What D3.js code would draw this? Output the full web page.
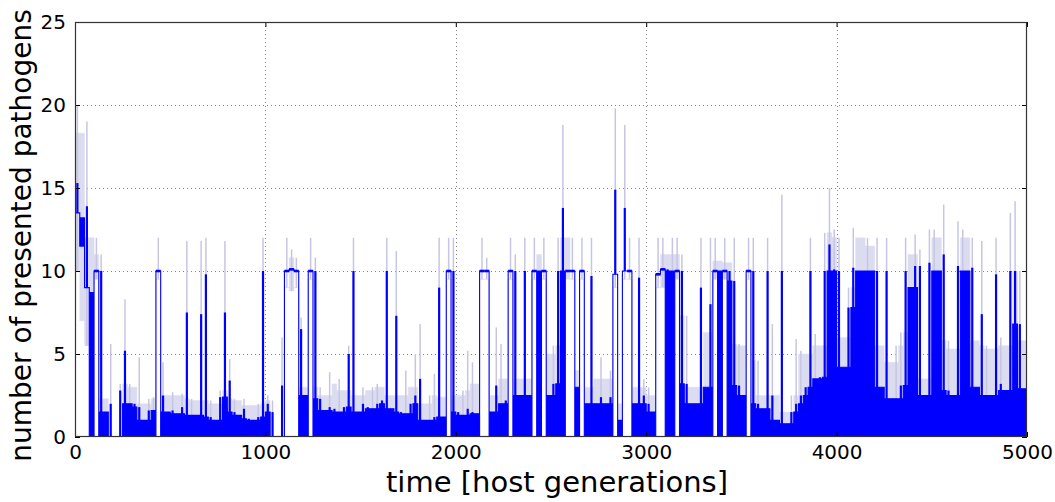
<!DOCTYPE html>
<html>
<head>
<meta charset="utf-8">
<script src="https://cdn.jsdelivr.net/npm/d3@7/dist/d3.min.js"></script>
<style>
  body { margin: 0; background: #fff; }
  svg { display: block; font-family: "DejaVu Sans", sans-serif; }
</style>
</head>
<body>
<svg id="chart"></svg>
<script>
// Data: one sample every 25 host generations.
// blueHi / blueLo = top and bottom of the blue trace within each step,
// lavHi / lavLo = top and bottom of the light band behind it.
let step = 25;

let blueHi = [
  15.3, 13.2, 13.9, 8.7, 10, 10, 1.5, 2.0, 0, 2.8,
  5.2, 2.0, 2.0, 1.8, 1.0, 1.6, 1.6, 10, 2.5, 1.5,
  1.6, 1.4, 1.8, 7.5, 1.3, 1.3, 7.4, 9.8, 1.2, 1.0,
  2.4, 7.5, 3.4, 1.5, 1.3, 1.7, 1.1, 1.0, 1.2, 10,
  2.0, 1.5, 0, 3.1, 10, 10.1, 10, 6.5, 2.5, 10,
  10, 2.3, 1.6, 1.8, 1.7, 1.5, 1.8, 5.0, 10, 1.5,
  2.0, 1.8, 1.7, 2.0, 2.2, 10, 1.7, 7.3, 1.5, 1.4,
  2.0, 2.5, 3.5, 1.0, 1.0, 1.2, 9.0, 1.2, 10, 10,
  1.5, 1.3, 1.7, 1.5, 1.4, 10, 10, 1.5, 3.1, 2.0,
  2.2, 10, 10, 2.5, 10, 2.5, 10, 10, 10, 2.5,
  3.2, 10, 13.8, 10, 10, 3.0, 10, 2.0, 9.7, 2.0,
  2.4, 2.0, 2.4, 14.9, 1.0, 13.8, 10, 2.0, 9.6, 2.5,
  2.0, 1.5, 9.8, 10.1, 10.1, 10, 10, 10, 3.2, 2.0,
  2.0, 9.0, 3.0, 8.0, 10, 10, 10, 10, 9.4, 3.1,
  2.5, 10, 10, 2.0, 1.7, 10, 2.5, 1.0, 10, 0.8,
  1.5, 2.0, 2.5, 3.0, 10, 3.5, 3.6, 10, 11.6, 10.1,
  10, 4.2, 7.8, 10.2, 10, 10, 10, 10, 10, 3.0,
  10, 2.3, 2.3, 3.1, 10, 9.0, 10.3, 10.3, 2.5, 10.5,
  10, 10, 11, 2.8, 2.5, 10.3, 10, 10, 10.2, 3.0,
  7.4, 2.5, 2.5, 9.8, 3.2, 2.8, 10, 10, 6.8, 2.9
];

let blueLo = [
  13.5, 11.5, 9, 0, 10, 0, 0, 0, 0, 0,
  0, 0, 0, 0, 0, 0, 0, 10, 0, 0,
  0, 0, 0, 0, 0, 0, 0, 0, 0, 0,
  0, 0, 0, 0, 0, 0, 0, 0, 0, 0,
  0, 0, 0, 0, 10, 10.1, 10, 0, 0, 10,
  0, 0, 0, 0, 0, 0, 0, 0, 0, 0,
  0, 0, 0, 0, 0, 0, 0, 0, 0, 0,
  0, 0, 0, 0, 0, 0, 0, 0, 10, 0,
  0, 0, 0, 0, 0, 10, 10, 0, 0, 0,
  0, 10, 0, 0, 0, 0, 10, 0, 10, 0,
  0, 0, 0, 10, 10, 0, 10, 0, 0, 0,
  0, 0, 0, 9.8, 0, 10, 10, 0, 0, 0,
  0, 0, 9.8, 10.1, 0, 0, 10, 0, 0, 0,
  0, 0, 0, 0, 10, 0, 10, 0, 0, 0,
  0, 10, 0, 0, 0, 0, 0, 0, 0, 0,
  0, 0, 0, 0, 0, 0, 0, 0, 0, 0,
  0, 0, 0, 0, 0, 0, 0, 0, 0, 0,
  0, 0, 0, 0, 0, 0, 0, 0, 0, 0,
  0, 0, 0, 0, 0, 0, 0, 0, 0, 0,
  0, 0, 0, 0, 0, 0, 0, 0, 0, 0
];

let lavHi = [
  20, 18.3, 19, 12, 12, 11, 2.3, 5.6, 0, 3.2,
  8.3, 3.2, 3.0, 4.8, 2.0, 2.3, 2.4, 12, 4.5, 2.5,
  2.7, 2.5, 2.6, 11.8, 2.3, 2.2, 11.8, 12, 2.2, 2.0,
  2.8, 11.8, 4.7, 2.3, 2.2, 2.3, 1.9, 1.9, 2.0, 12,
  2.5, 2.2, 0, 6, 12, 11.3, 10.8, 7.2, 3.0, 12,
  10.8, 3.0, 2.5, 3.9, 3.2, 3.5, 2.8, 5.5, 12, 2.5,
  3.0, 2.8, 3.0, 3.2, 3.0, 12, 2.5, 11.2, 2.5, 4.0,
  3.0, 5.0, 6.8, 2.0, 2.5, 3.8, 12, 2.4, 12, 12,
  2.5, 2.8, 5.2, 4.5, 3.2, 12, 10.8, 2.5, 6.6, 5.6,
  3.5, 12, 11, 3.5, 12, 3.5, 12, 11, 12, 5.0,
  5.5, 12, 18.8, 12, 12, 4.0, 12, 3.0, 12, 3.5,
  4.8, 3.5, 4.0, 19.8, 2.0, 18.8, 12, 3.0, 12, 3.5,
  3.0, 2.5, 12, 12, 11, 12, 12, 11, 7.3, 3.0,
  3.0, 12, 6.3, 12, 12, 10.6, 12, 10.5, 12, 5.6,
  5.5, 12, 12, 4.6, 2.5, 12, 6.8, 2.5, 14.6, 1.5,
  2.5, 5.9, 5.2, 5.0, 12, 6.2, 5.5, 12.3, 15, 12.5,
  12, 6, 9, 12.6, 12, 12, 12, 11.5, 12, 5.5,
  12, 4.5, 5.5, 6.3, 12, 11, 12.2, 11.3, 3.5, 12.5,
  12.5, 12, 14, 5.8, 5.3, 13, 12.5, 12, 12, 5.8,
  11.8, 5.5, 5.3, 12, 6, 5.5, 13.5, 14.2, 10, 5.8
];

let lavLo = [
  10, 7, 5.5, 0, 9.5, 0, 0, 0, 0, 0,
  0, 0, 0, 0, 0, 0, 0, 9.5, 0, 0,
  0, 0, 0, 0, 0, 0, 0, 0, 0, 0,
  0, 0, 0, 0, 0, 0, 0, 0, 0, 0,
  0, 0, 0, 0, 9, 8.8, 9, 0, 0, 9.5,
  0, 0, 0, 0, 0, 0, 0, 0, 0, 0,
  0, 0, 0, 0, 0, 0, 0, 0, 0, 0,
  0, 0, 0, 0, 0, 0, 0, 0, 9.5, 0,
  0, 0, 0, 0, 0, 9.5, 9.5, 0, 0, 0,
  0, 9.5, 0, 0, 0, 0, 9.5, 0, 9.5, 0,
  0, 0, 0, 9.5, 9.5, 0, 9.5, 0, 0, 0,
  0, 0, 0, 9, 0, 9.5, 9.5, 0, 0, 0,
  0, 0, 9, 9, 0, 0, 9.5, 0, 0, 0,
  0, 0, 0, 0, 9.5, 0, 9.5, 0, 0, 0,
  0, 9.5, 0, 0, 0, 0, 0, 0, 0, 0,
  0, 0, 0, 0, 0, 0, 0, 0, 0, 0,
  0, 0, 0, 0, 0, 0, 0, 0, 0, 0,
  0, 0, 0, 0, 0, 0, 0, 0, 0, 0,
  0, 0, 0, 0, 0, 0, 0, 0, 0, 0,
  0, 0, 0, 0, 0, 0, 0, 0, 0, 0
];

let xTicks = [0, 1000, 2000, 3000, 4000, 5000];
let yTicks = [0, 5, 10, 15, 20, 25];

// Layout
let width = 1055;
let height = 502;
let padLeft = 75, padRight = 1027, padTop = 22, padBottom = 437;

let svg = d3.select("#chart").attr("width", width).attr("height", height);

let xScale = d3.scaleLinear().domain([0, 5000]).range([padLeft, padRight]);
let yScale = d3.scaleLinear().domain([0, 25]).range([padBottom, padTop]);

// one record per step. "floor" is the part of the step that its neighbours
// share (drawn as a solid band); the rest above it is drawn as a thin spike.
let rows = (hi, lo) => {
  let r = hi.map((v, i) => {
    let near = Math.min(v, hi[Math.max(i - 1, 0)], hi[Math.min(i + 1, hi.length - 1)]);
    return { t: i * step, hi: v, lo: lo[i], floor: Math.max(lo[i], near) };
  });
  let last = r[r.length - 1];
  r.push({ t: hi.length * step, hi: last.hi, lo: last.lo, floor: last.floor });
  return r;
};

let blueRows = rows(blueHi, blueLo);
let lavRows = rows(lavHi, lavLo);

svg.append("clipPath").attr("id", "plot-clip")
  .append("rect")
  .attr("x", padLeft).attr("y", padTop)
  .attr("width", padRight - padLeft).attr("height", padBottom - padTop);

// grid
let grid = svg.append("g");
grid.selectAll("line.gx").data(xTicks.slice(1, -1)).enter().append("line")
  .attr("x1", d => Math.round(xScale(d)) + 0.5).attr("x2", d => Math.round(xScale(d)) + 0.5)
  .attr("y1", padTop).attr("y2", padBottom)
  .attr("stroke", "#666").attr("stroke-width", 0.8).attr("stroke-dasharray", "1,3");
grid.selectAll("line.gy").data(yTicks.slice(1, -1)).enter().append("line")
  .attr("y1", d => Math.round(yScale(d)) + 0.5).attr("y2", d => Math.round(yScale(d)) + 0.5)
  .attr("x1", padLeft).attr("x2", padRight)
  .attr("stroke", "#666").attr("stroke-width", 0.8).attr("stroke-dasharray", "1,3");

let band = d3.area()
  .curve(d3.curveStepAfter)
  .x(d => xScale(d.t))
  .y0(d => yScale(d.lo))
  .y1(d => yScale(d.floor));

let plot = svg.append("g").attr("clip-path", "url(#plot-clip)");

let drawTrace = (data, bandColor, color, bandStroke, spikeWidth, flatWidth) => {
  let g = plot.append("g");
  g.append("path")
    .attr("d", band(data))
    .attr("fill", bandColor)
    .attr("stroke", bandColor)
    .attr("stroke-width", bandStroke);
  let steps = data.slice(0, -1);
  g.selectAll("line.spike").data(steps.filter(d => d.hi > d.floor)).enter().append("line")
    .attr("x1", d => xScale(d.t + step / 2)).attr("x2", d => xScale(d.t + step / 2))
    .attr("y1", d => yScale(d.lo)).attr("y2", d => yScale(d.hi))
    .attr("stroke", color).attr("stroke-width", spikeWidth);
  if (flatWidth) {
    g.selectAll("line.flat").data(steps.filter(d => d.lo > 0 && d.lo >= d.hi - 0.01)).enter().append("line")
      .attr("x1", d => xScale(d.t)).attr("x2", d => xScale(d.t + step))
      .attr("y1", d => yScale(d.hi)).attr("y2", d => yScale(d.hi))
      .attr("stroke", color).attr("stroke-width", flatWidth);
  }
};

drawTrace(lavRows, "#dcdcf0", "#c6c6e4", 0.5, 1.5, 0);
drawTrace(blueRows, "#0000ff", "#0000ff", 1.1, 2.2, 2.6);

// axes: ticks inside on all four sides, like the classic matplotlib frame
let xAxisB = d3.axisBottom(xScale).tickValues(xTicks).tickFormat(d3.format("d"))
  .tickSizeInner(-5).tickSizeOuter(0).tickPadding(8);
let xAxisT = d3.axisTop(xScale).tickValues(xTicks).tickSizeInner(-5).tickSizeOuter(0).tickFormat("");
let yAxisL = d3.axisLeft(yScale).tickValues(yTicks).tickFormat(d3.format("d"))
  .tickSizeInner(-5).tickSizeOuter(0).tickPadding(9);
let yAxisR = d3.axisRight(yScale).tickValues(yTicks).tickSizeInner(-5).tickSizeOuter(0).tickFormat("");

let styleAxis = g => {
  g.select(".domain").remove();
  g.selectAll("line").attr("stroke", "#000");
  g.selectAll("text").attr("fill", "#000").style("font-size", "20px")
    .style("font-family", "'DejaVu Sans', sans-serif");
};

svg.append("g").attr("transform", "translate(0," + padBottom + ")").call(xAxisB).call(styleAxis);
svg.append("g").attr("transform", "translate(0," + padTop + ")").call(xAxisT).call(styleAxis);
svg.append("g").attr("transform", "translate(" + padLeft + ",0)").call(yAxisL).call(styleAxis);
svg.append("g").attr("transform", "translate(" + padRight + ",0)").call(yAxisR).call(styleAxis);

svg.append("rect")
  .attr("x", padLeft + 0.5).attr("y", padTop + 0.5)
  .attr("width", padRight - padLeft - 1).attr("height", padBottom - padTop - 1)
  .attr("fill", "none").attr("stroke", "#333").attr("stroke-width", 1.2);

// labels
svg.append("text")
  .attr("x", (padLeft + padRight) / 2 + 6).attr("y", 492)
  .attr("text-anchor", "middle")
  .style("font-size", "29px")
  .text("time [host generations]");

svg.append("text")
  .attr("transform", "translate(31," + ((padTop + padBottom) / 2 + 6) + ") rotate(-90)")
  .attr("text-anchor", "middle")
  .style("font-size", "28px")
  .text("number of presented pathogens");
</script>
</body>
</html>
